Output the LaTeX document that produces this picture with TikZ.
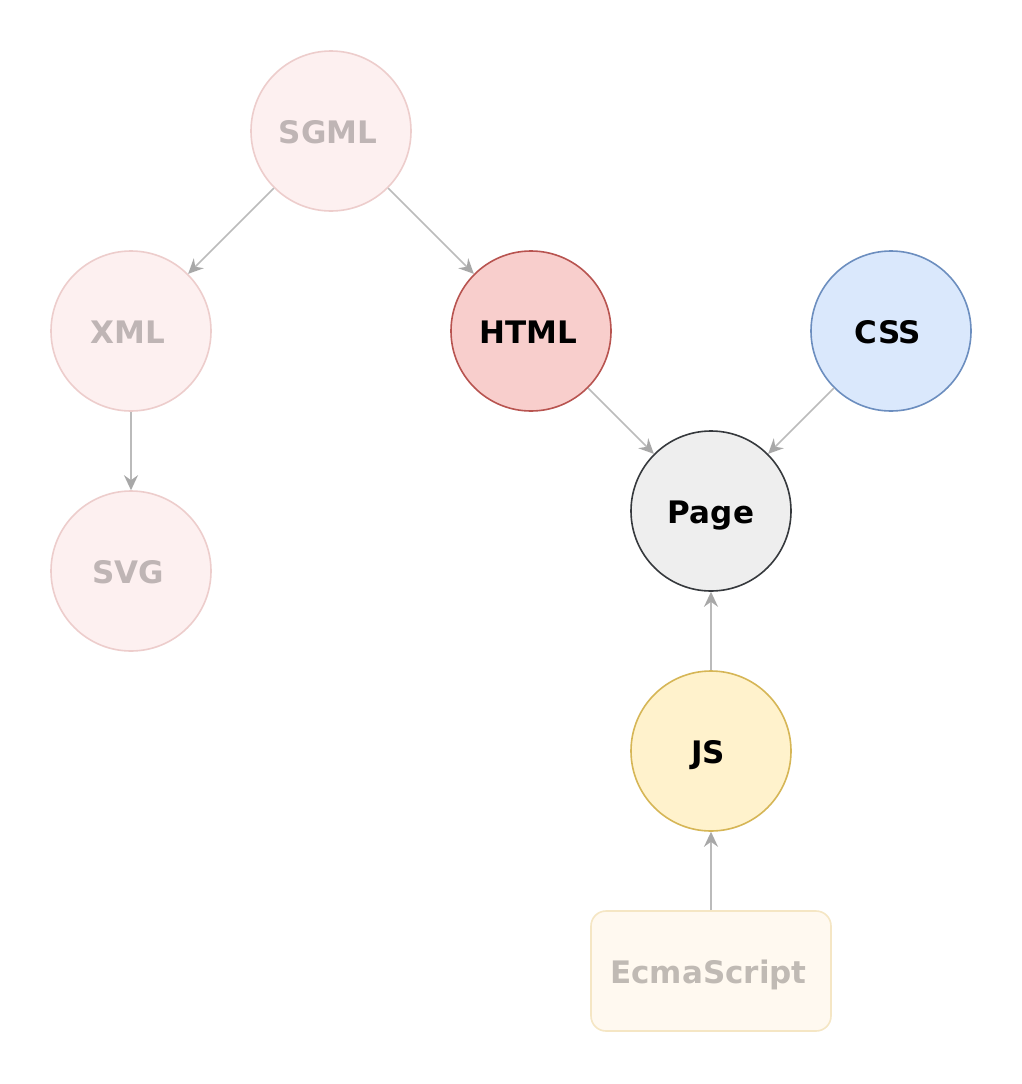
\documentclass[tikz,border=0pt]{standalone}
\usepackage{fontspec}
\setmainfont{DejaVu Sans}
\usetikzlibrary{arrows.meta}
\definecolor{fadefill}{HTML}{FDF0F0}
\definecolor{fadedraw}{HTML}{EDCDCC}
\definecolor{fadetext}{HTML}{BFB5B5}
\definecolor{ecmafill}{HTML}{FFF9F0}
\definecolor{ecmadraw}{HTML}{F5E6C4}
\definecolor{ecmatext}{HTML}{C0BAB4}
\definecolor{htmlfill}{HTML}{F8CECC}
\definecolor{htmldraw}{HTML}{B85450}
\definecolor{cssfill}{HTML}{DAE8FC}
\definecolor{cssdraw}{HTML}{6C8EBF}
\definecolor{pagefill}{HTML}{EEEEEE}
\definecolor{pagedraw}{HTML}{36393D}
\definecolor{jsfill}{HTML}{FFF2CC}
\definecolor{jsdraw}{HTML}{D6B656}
\definecolor{edgecol}{HTML}{BBBBBB}
\definecolor{tipcol}{HTML}{A8A8A8}
\tikzset{
  labelfont/.style={font=\fontsize{31}{37}\selectfont\bfseries, text height=25.6pt, text depth=0pt},
  basenode/.style={circle, minimum size=160pt, inner sep=0pt, line width=1.6pt, labelfont},
  fadenode/.style={basenode, draw=fadedraw, fill=fadefill, text=fadetext},
  ecmabox/.style={rectangle, rounded corners=15pt, minimum width=240pt, minimum height=120pt,
    inner sep=0pt, line width=1.6pt, draw=ecmadraw, fill=ecmafill, text=ecmatext, labelfont},
  conn/.style={draw=edgecol, line width=1.7pt,
    -{Stealth[length=15pt,width=14pt,inset=5pt,fill=tipcol,color=tipcol]}},
}
\begin{document}
\begin{tikzpicture}[x=1pt,y=-1pt]
\useasboundingbox (0,0) rectangle (1022,1084);
\fill[white] (0,0) rectangle (1022,1084);
\node[fadenode] (sgml) at (331,131) {SGML\kern6pt};
\node[fadenode] (xml) at (131,331) {XML\kern6pt};
\node[fadenode] (svg) at (131,571) {SVG\kern6pt};
\node[basenode, draw=htmldraw, fill=htmlfill] (html) at (531,331) {HTML\kern6pt};
\node[basenode, draw=cssdraw, fill=cssfill] (css) at (891,331) {CSS\kern6pt};
\node[basenode, draw=pagedraw, fill=pagefill] (page) at (711,511) {Page};
\node[basenode, draw=jsdraw, fill=jsfill] (js) at (711,751) {JS\kern6pt};
\node[ecmabox] (ecma) at (711,971) {EcmaScript\kern5pt};
\draw[conn] (sgml) -- (xml);
\draw[conn] (sgml) -- (html);
\draw[conn] (xml) -- (svg);
\draw[conn] (html) -- (page);
\draw[conn] (css) -- (page);
\draw[conn] (js) -- (page);
\draw[conn] (ecma) -- (js);
\end{tikzpicture}
\end{document}
